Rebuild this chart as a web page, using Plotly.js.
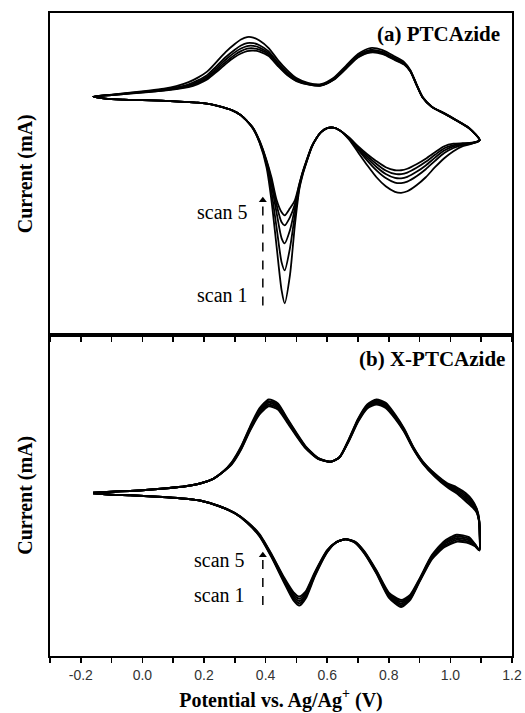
<!DOCTYPE html>
<html>
<head>
<meta charset="utf-8">
<script src="https://cdn.plot.ly/plotly-3.0.1.min.js"></script>
<style>html,body{margin:0;padding:0;background:#fff;}#chart{width:525px;height:713px;}</style>
</head>
<body>
<div id="chart"></div>
<script>
// Potential (V) sample positions, forward sweep then reverse sweep
const xTop = [-0.16,-0.10,-0.04,0.02,0.07,0.11,0.15,0.18,0.21,0.24,0.27,0.30,0.32,0.34,0.36,0.38,0.41,0.44,0.47,0.50,0.54,0.58,0.62,0.66,0.70,0.74,0.78,0.82,0.85,0.87,0.89,0.91,0.94,0.98,1.02,1.06,1.095,
  1.07,1.04,1.01,0.98,0.95,0.92,0.89,0.86,0.84,0.82,0.79,0.76,0.73,0.70,0.67,0.64,0.62,0.60,0.58,0.565,0.55,0.533,0.52,0.51,0.495,0.479,0.462,0.452,0.436,0.419,0.403,0.381,0.36,0.34,0.32,0.29,0.26,0.22,0.18,0.12,0.06,0.0,-0.06,-0.12,-0.16];

// (a) PTCAzide current, arbitrary units
const topScan1 = [0.5,2.5,4.5,6.5,8.5,11,15,19.5,25.5,35,45,53,57.5,60,59.5,56.5,49,37,27,19,14,13,19,31,43,49,47,40.5,35,27,13,0,-9.5,-16,-23,-30.5,-43,
  -46.5,-49,-54,-61,-70,-80,-88,-94,-95.5,-94.5,-89,-80,-68,-55,-42,-33,-30.5,-31,-35,-41,-50,-65,-78,-91,-128,-178,-206,-193,-150,-103,-70,-46,-32,-24,-18,-13,-10,-7,-5.5,-4.5,-3.5,-3,-2.5,-1.5,0.5];
const topScan2 = [0.5,2.3,4.1,5.9,7.6,9.7,12.8,16.7,22,30.7,39.8,47.4,51.5,54,53.9,51.8,45.6,34.4,24.9,17.7,13.4,12.4,18.1,29.7,41.5,47.1,45.3,39,33.9,26.4,12.6,-0.2,-9.7,-16.2,-23.2,-30.7,-43,
  -46.1,-47.7,-50.8,-55.8,-63.6,-72,-79,-84.3,-85.8,-85.3,-80.8,-73.1,-63.3,-52.4,-41.1,-33,-30.5,-31,-35,-41,-49.6,-64.5,-77,-89.5,-118,-151,-173,-165,-131,-94,-67,-45.5,-31.5,-24,-18,-13,-10,-7,-5.5,-4.5,-3.5,-3,-2.5,-1.5,0.5];
const topScan3 = [0.5,2.2,3.9,5.5,7.2,9.1,11.8,15.3,20.4,28.6,37.3,44.7,48.5,51,51.2,49.5,43.9,33.2,23.8,17.1,13,12,17.7,29.1,40.8,46.1,44.4,38.3,33.4,26,12.4,-0.3,-9.8,-16.3,-23.3,-30.8,-43,
  -45.9,-47.1,-49.2,-53.3,-60.4,-68.2,-74.6,-79.6,-81.1,-80.7,-76.8,-69.8,-61,-51.2,-40.7,-33,-30.5,-31,-35,-41,-49.4,-64,-76,-88,-111,-133,-146,-141,-116,-87,-65,-45,-31.5,-24,-18,-13,-10,-7,-5.5,-4.5,-3.5,-3,-2.5,-1.5,0.5];
const topScan4 = [0.5,2.1,3.7,5.3,6.8,8.5,10.9,14.1,18.9,26.7,35,42.2,45.9,48.4,48.7,47.4,42.4,32,22.9,16.5,12.8,11.8,17.3,28.5,40.1,45.3,43.7,37.6,32.9,25.8,12.2,-0.4,-9.9,-16.4,-23.4,-30.9,-43,
  -45.7,-46.5,-47.8,-51,-57.6,-64.6,-70.6,-75.3,-76.8,-76.7,-73.2,-66.7,-58.9,-50,-40.3,-33,-30.5,-31,-35,-41,-49.2,-63.5,-75.5,-87,-107,-120,-128,-125,-108,-83,-64,-44.5,-31,-24,-18,-13,-10,-7,-5.5,-4.5,-3.5,-3,-2.5,-1.5,0.5];
const topScan5 = [0.5,2,3.5,5,6.5,8,10,13,17.5,25,33,40,43.5,46,46.5,45.5,41,31,22,16,12.5,11.5,17,28,39.5,44.5,43,37,32.5,25.5,12,-0.5,-10,-16.5,-23.5,-31,-43,
  -45.5,-46,-46.5,-49,-55,-61.5,-67,-71.5,-73,-73,-70,-64,-57,-49,-40,-33,-30.5,-31,-35,-41,-49,-63,-75,-86,-103,-111,-118,-115,-103,-80,-63,-44,-31,-24,-18,-13,-10,-7,-5.5,-4.5,-3.5,-3,-2.5,-1.5,0.5];

const xBot = [-0.16,-0.10,-0.04,0.02,0.08,0.14,0.19,0.23,0.26,0.29,0.32,0.35,0.38,0.41,0.44,0.47,0.50,0.53,0.57,0.61,0.64,0.67,0.70,0.73,0.76,0.79,0.82,0.85,0.88,0.91,0.95,0.99,1.02,1.05,1.07,1.085,1.093,
  1.094,1.08,1.06,1.02,0.98,0.94,0.90,0.87,0.84,0.80,0.76,0.72,0.69,0.66,0.63,0.60,0.56,0.53,0.51,0.49,0.46,0.42,0.38,0.34,0.30,0.25,0.19,0.14,0.08,0.02,-0.04,-0.10,-0.16];

// (b) X-PTCAzide current, arbitrary units
const botScan1 = [0.5,1.5,2.3,3.5,5,7,10,14.5,21,31,46.5,67,85,94,90,75,60.5,47,35.5,31.5,36,54,74.5,89,94,90.5,79,64.5,46,32,19.5,10,6,0,-6.5,-15,-26,
  -57,-53,-50,-48.5,-54,-66,-88.5,-106.5,-114,-104.5,-80.5,-60,-49.5,-46,-49,-59,-83,-105.5,-112.5,-107,-89.5,-64.5,-43,-29.5,-20,-13,-7.5,-5.5,-4,-3,-2,-1.5,0];
const botScan2 = [0.5,1.5,2.3,3.5,5,7,10,14.5,21,30.5,45.7,66,83.5,92.2,88.5,74,59.7,46.5,35.2,31.5,36,53.5,73.7,88,92.7,89.2,78,63.7,45.5,31.5,18.7,9,4.5,-2,-8.2,-16,-26.5,
  -57,-52.5,-48.5,-46.7,-52.5,-65,-87.7,-105.2,-112.2,-103.2,-79.7,-59.5,-49.2,-46,-49,-58.5,-82,-103.7,-110.2,-105,-88.2,-63.7,-42.5,-29.2,-20,-13,-7.5,-5.5,-4,-3,-2,-1.5,0];
const botScan3 = [0.5,1.5,2.3,3.5,5,7,10,14.5,21,30,45,65,82,90.5,87,73,59,46,35,31.5,36,53,73,87,91.5,88,77,63,45,31,18,8,3,-4,-10,-17,-27,
  -57,-52,-47,-45,-51,-64,-87,-104,-110.5,-102,-79,-59,-49,-46,-49,-58,-81,-102,-108,-103,-87,-63,-42,-29,-20,-13,-7.5,-5.5,-4,-3,-2,-1.5,0];
const botScan4 = [0.5,1.5,2.3,3.5,5,7,10,14.5,21,29.5,44.2,64,80.5,88.7,85.5,72,58.2,45.5,34.7,31.5,36,52.5,72.2,86,90.2,86.7,76,62.2,44.5,30.5,17.2,7,1.5,-6,-11.7,-18,-27.5,
  -57,-51.5,-45.5,-43.2,-49.5,-63,-86.2,-102.7,-108.7,-100.7,-78.2,-58.5,-48.7,-46,-49,-57.5,-80,-100.2,-105.7,-101,-85.7,-62.2,-41.5,-28.7,-20,-13,-7.5,-5.5,-4,-3,-2,-1.5,0];
const botScan5 = [0.5,1.5,2.3,3.5,5,7,10,14.5,21,29,43.5,63,79,87,84,71,57.5,45,34.5,31.5,36,52,71.5,85,89,85.5,75,61.5,44,30,16.5,6,0,-8,-13.5,-19,-28,
  -57,-51,-44,-41.5,-48,-62,-85.5,-101.5,-107,-99.5,-77.5,-58,-48.5,-46,-49,-57,-79,-98.5,-103.5,-99,-84.5,-61.5,-41,-28.5,-20,-13,-7.5,-5.5,-4,-3,-2,-1.5,0];

const tickVals = [-0.2,0.0,0.2,0.4,0.6,0.8,1.0,1.2];
const tickText = ['-0.2','0.0','0.2','0.4','0.6','0.8','1.0','1.2'];
const panelLabels = ['(a) PTCAzide','(b) X-PTCAzide'];
const scanLabels = ['scan 5','scan 1'];
// arrow (scan 1 -> scan 5) positions: potential, bottom current, tip current
const arrowTop = [0.391, -208, -103];
const arrowBot = [0.391, -112, -62];

const serif = 'Liberation Serif, Times New Roman, serif';
const sans = 'Liberation Sans, Arial, sans-serif';

const traces = [];
[topScan1, topScan2, topScan3, topScan4, topScan5].forEach(ys => traces.push({
  x: xTop, y: ys, xaxis: 'x', yaxis: 'y', type: 'scatter', mode: 'lines',
  line: {color: '#000', width: 1.8, shape: 'spline', smoothing: 0.7}, hoverinfo: 'skip'
}));
[botScan1, botScan2, botScan3, botScan4, botScan5].forEach(ys => traces.push({
  x: xBot, y: ys, xaxis: 'x2', yaxis: 'y2', type: 'scatter', mode: 'lines',
  line: {color: '#000', width: 2, shape: 'spline', smoothing: 0.6}, hoverinfo: 'skip'
}));
// arrow heads
traces.push({x: [arrowTop[0]], y: [arrowTop[2]], xaxis: 'x', yaxis: 'y', type: 'scatter', mode: 'markers',
  marker: {symbol: 'triangle-up', size: 7, color: '#000'}, hoverinfo: 'skip'});
traces.push({x: [arrowBot[0]], y: [arrowBot[2]], xaxis: 'x2', yaxis: 'y2', type: 'scatter', mode: 'markers',
  marker: {symbol: 'triangle-up', size: 7, color: '#000'}, hoverinfo: 'skip'});

const xBase = {
  range: [-0.3, 1.2], tickmode: 'array', tickvals: tickVals, ticktext: tickText,
  ticks: 'outside', ticklen: 5, tickwidth: 1.5, tickcolor: '#000',
  minor: {tickmode: 'linear', tick0: 0, dtick: 0.1, ticks: 'outside', ticklen: 5, tickwidth: 1.5, tickcolor: '#000'},
  showline: true, linewidth: 2, linecolor: '#000', mirror: true,
  showgrid: false, zeroline: false
};
const yBase = {
  showticklabels: false, ticks: '', showline: true, linewidth: 2, linecolor: '#000', mirror: true,
  showgrid: false, zeroline: false,
  title: {text: '<b>Current (mA)</b>', font: {family: serif, size: 20, color: '#000'}, standoff: 10}
};

const layout = {
  width: 525, height: 713,
  margin: {l: 50, r: 13, t: 13, b: 57},
  paper_bgcolor: '#fff', plot_bgcolor: '#fff',
  showlegend: false,
  xaxis: Object.assign({}, xBase, {anchor: 'y', domain: [0, 1], showticklabels: false}),
  xaxis2: Object.assign({}, xBase, {anchor: 'y2', domain: [0, 1], showticklabels: true,
    tickfont: {family: sans, size: 14, color: '#333'},
    title: {text: '<b>Potential vs. Ag/Ag<sup>+</sup> (V)</b>', font: {family: serif, size: 20, color: '#000'}, standoff: 11}}),
  yaxis: Object.assign({}, yBase, {anchor: 'x', domain: [0.5, 1], range: [-237, 84]}),
  yaxis2: Object.assign({}, yBase, {anchor: 'x2', domain: [0, 0.5], range: [-163, 159]}),
  shapes: [
    {type: 'line', xref: 'x', yref: 'y', x0: arrowTop[0], x1: arrowTop[0], y0: arrowTop[1], y1: arrowTop[2] - 4, line: {color: '#000', width: 1.5, dash: 'dash'}},
    {type: 'line', xref: 'x2', yref: 'y2', x0: arrowBot[0], x1: arrowBot[0], y0: arrowBot[1], y1: arrowBot[2] - 4, line: {color: '#000', width: 1.5, dash: 'dash'}}
  ],
  annotations: [
    {text: '<b>' + panelLabels[0] + '</b>', xref: 'paper', yref: 'y domain', x: 0.978, y: 0.935, xanchor: 'right', yanchor: 'middle', showarrow: false, font: {family: serif, size: 21, color: '#000'}},
    {text: '<b>' + panelLabels[1] + '</b>', xref: 'paper', yref: 'y2 domain', x: 0.989, y: 0.925, xanchor: 'right', yanchor: 'middle', showarrow: false, font: {family: serif, size: 21, color: '#000'}},
    {text: scanLabels[0], xref: 'x', yref: 'y', x: 0.349, y: -114.7, xanchor: 'right', yanchor: 'middle', showarrow: false, font: {family: serif, size: 20, color: '#000'}},
    {text: scanLabels[1], xref: 'x', yref: 'y', x: 0.349, y: -198, xanchor: 'right', yanchor: 'middle', showarrow: false, font: {family: serif, size: 20, color: '#000'}},
    {text: scanLabels[0], xref: 'x2', yref: 'y2', x: 0.339, y: -67, xanchor: 'right', yanchor: 'middle', showarrow: false, font: {family: serif, size: 20, color: '#000'}},
    {text: scanLabels[1], xref: 'x2', yref: 'y2', x: 0.339, y: -102, xanchor: 'right', yanchor: 'middle', showarrow: false, font: {family: serif, size: 20, color: '#000'}}
  ]
};

Plotly.newPlot('chart', traces, layout, {staticPlot: true, displayModeBar: false});
</script>
</body>
</html>
